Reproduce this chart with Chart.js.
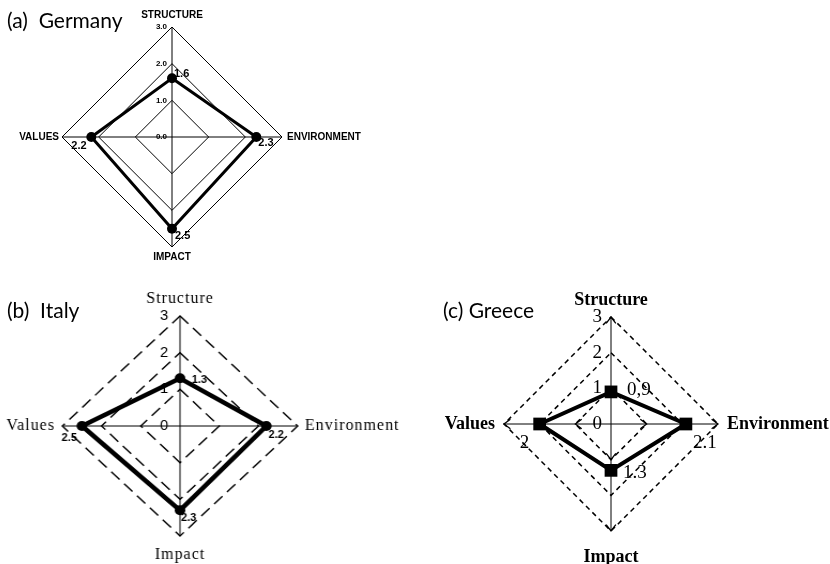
<!DOCTYPE html>
<html>
<head>
<meta charset="utf-8">
<script src="https://cdn.jsdelivr.net/npm/chart.js@4.4.1/dist/chart.umd.min.js"></script>
<style>
  body { margin:0; background:#fff; width:830px; height:564px; position:relative; overflow:hidden; }
  canvas { position:absolute; }
  .ttl { position:absolute; font-family:Lato, sans-serif; font-size:21px; line-height:1; color:#000; white-space:pre; }
</style>
</head>
<body>
<canvas id="cA" width="415" height="280" style="left:0;top:0"></canvas>
<canvas id="cB" width="415" height="284" style="left:0;top:280px;transform:scaleX(1.07);transform-origin:180px 0"></canvas>
<canvas id="cC" width="415" height="284" style="left:415px;top:280px"></canvas>
<div class="ttl" style="left:7px;top:9px">(a)  Germany</div>
<div class="ttl" style="left:7px;top:299px">(b)  Italy</div>
<div class="ttl" style="left:443px;top:299px">(c) Greece</div>
<script>
// --- data ---
const germanyAxes = ['STRUCTURE', 'ENVIRONMENT', 'IMPACT', 'VALUES'];
const germanyValues = [1.6, 2.3, 2.5, 2.2];
const germanyValueText = ['1.6', '2.3', '2.5', '2.2'];
const germanyTicks = ['0.0', '1.0', '2.0', '3.0'];

const italyAxes = ['Structure', 'Environment', 'Impact', 'Values'];
const italyValues = [1.3, 2.2, 2.3, 2.5];
const italyValueText = ['1.3', '2.2', '2.3', '2.5'];
const italyTicks = ['0', '1', '2', '3'];

const greeceAxes = ['Structure', 'Environment', 'Impact', 'Values'];
const greeceValues = [0.9, 2.1, 1.3, 2];
const greeceValueText = ['0,9', '2.1', '1.3', '2'];
const greeceTicks = ['0', '1', '2', '3'];

const scaleMax = 3;

// text drawn next to the radial scale (sx undoes a css stretch on the canvas)
function put(ctx, str, x, y, sx) {
  ctx.save();
  ctx.translate(x, y);
  ctx.scale(1 / sx, 1);
  ctx.fillText(str, 0, 0);
  ctx.restore();
}

const radarText = {
  id: 'radarText',
  afterDatasetsDraw(chart, args, o) {
    const s = chart.scales.r, ctx = chart.ctx, sx = o.sx || 1;
    ctx.save();

    // open arrow heads on the axes (greece)
    if (o.arrows) {
      ctx.setLineDash([]);
      ctx.strokeStyle = '#000';
      ctx.lineWidth = 1.3;
      o.arrows.forEach(v => {
        const d = s.getDistanceFromCenterForValue(v);
        chart.data.labels.forEach((l, i) => {
          const p = s.getPointPosition(i, d);
          const a = Math.atan2(p.y - s.yCenter, p.x - s.xCenter);
          ctx.beginPath();
          ctx.moveTo(p.x - 8 * Math.cos(a - 0.65), p.y - 8 * Math.sin(a - 0.65));
          ctx.lineTo(p.x, p.y);
          ctx.lineTo(p.x - 8 * Math.cos(a + 0.65), p.y - 8 * Math.sin(a + 0.65));
          ctx.stroke();
        });
      });
    }

    ctx.fillStyle = '#000';
    ctx.textBaseline = 'middle';

    // tick labels, left of the vertical axis
    ctx.font = o.tickFont;
    ctx.textAlign = 'right';
    s.ticks.forEach((t, i) => {
      const d = s.getDistanceFromCenterForValue(t.value);
      put(ctx, o.tickText[i], s.xCenter - o.tickGap, s.yCenter - d, sx);
    });

    // axis names
    ctx.font = o.labelFont;
    if (o.spacing) ctx.letterSpacing = o.spacing;
    const align = ['center', 'left', 'center', 'right'];
    chart.data.labels.forEach((lab, i) => {
      const p = s.getPointPosition(i, s.drawingArea + o.labelGap[i]);
      ctx.textAlign = align[i];
      put(ctx, lab, p.x, p.y, sx);
    });
    ctx.letterSpacing = '0px';

    // value annotations beside each point
    ctx.font = o.valueFont;
    ctx.textAlign = 'left';
    chart.getDatasetMeta(0).data.forEach((pt, i) => {
      put(ctx, o.valueText[i], pt.x + o.valueOffset[i][0], pt.y + o.valueOffset[i][1], sx);
    });
    ctx.restore();
  }
};

function radar(id, labels, values, st, text) {
  return new Chart(document.getElementById(id), {
    type: 'radar',
    data: {
      labels: labels,
      datasets: [{
        data: values,
        borderColor: '#000',
        borderWidth: st.lw,
        backgroundColor: 'rgba(0,0,0,0)',
        fill: false,
        tension: 0,
        pointStyle: st.ps,
        pointRadius: st.pr,
        pointBackgroundColor: '#000',
        pointBorderColor: '#000',
        pointBorderWidth: 0
      }]
    },
    options: {
      responsive: false,
      animation: false,
      events: [],
      layout: { padding: st.pad },
      plugins: { legend: { display: false }, tooltip: { enabled: false }, radarText: text },
      scales: {
        r: {
          min: 0, max: scaleMax,
          ticks: { display: false, stepSize: 1 },
          pointLabels: { display: false },
          grid: { color: '#000', lineWidth: st.gw, circular: false, borderDash: st.dash },
          border: { dash: st.dash },
          angleLines: { color: '#000', lineWidth: 1 }
        }
      }
    },
    plugins: [radarText]
  });
}

radar('cA', germanyAxes, germanyValues,
  { lw: 3, ps: 'circle', pr: 5, gw: 1, dash: [], pad: { left: 62, right: 133, top: 27, bottom: 33 } },
  {
    tickText: germanyTicks, tickFont: 'bold 8px "Liberation Sans"', tickGap: 5,
    labelFont: 'bold 10px "Liberation Sans"', labelGap: [11.5, 5, 10, 3],
    valueText: germanyValueText, valueFont: 'bold 11px "Liberation Sans"',
    valueOffset: [[2, -4], [2, 6], [3, 7], [-20, 9]]
  });

radar('cB', italyAxes, italyValues,
  { lw: 4.5, ps: 'circle', pr: 5, gw: 1.4, dash: [11, 6], pad: { left: 70, right: 125, top: 36, bottom: 28 } },
  {
    sx: 1.07,
    tickText: italyTicks, tickFont: '15px "Liberation Sans"', tickGap: 11,
    labelFont: '16px "Liberation Serif"', spacing: '1px', labelGap: [17, 6.8, 19, 6.8],
    valueText: italyValueText, valueFont: 'bold 11px "Liberation Sans"',
    valueOffset: [[11, 2], [2, 9], [1, 8], [-19, 12]]
  });

radar('cC', greeceAxes, greeceValues,
  { lw: 4, ps: 'rect', pr: 9, gw: 1.5, dash: [5, 4], pad: { left: 89, right: 112, top: 37, bottom: 33 } },
  {
    arrows: [1, scaleMax],
    tickText: greeceTicks, tickFont: '19px "Liberation Serif"', tickGap: 9,
    labelFont: 'bold 18px "Liberation Serif"', labelGap: [17, 9, 26, 9],
    valueText: greeceValueText, valueFont: '19px "Liberation Serif"',
    valueOffset: [[16, -2], [7, 19], [12, 3], [-20, 19]]
  });
</script>
</body>
</html>
